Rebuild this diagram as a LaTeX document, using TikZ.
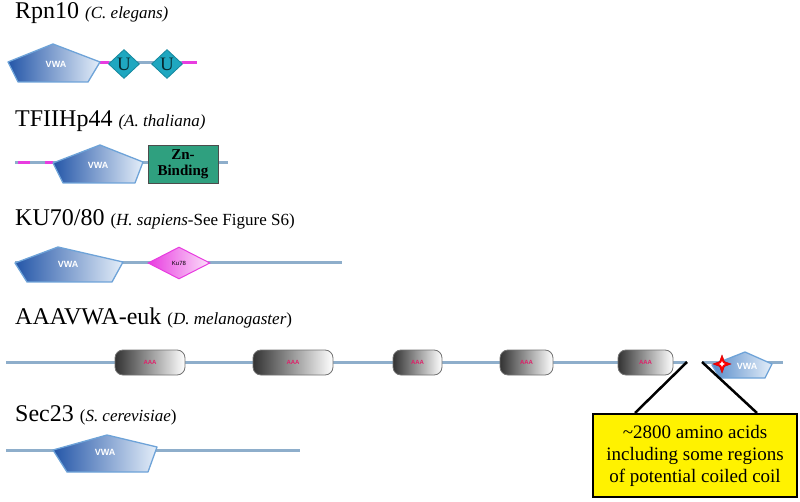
\documentclass[tikz,border=0pt]{standalone}
\usepackage{fontspec}
\setmainfont{Liberation Serif}
\setsansfont{Liberation Sans}
\usetikzlibrary{shapes.geometric,shapes.symbols}
\definecolor{bb}{HTML}{8EAECB}
\definecolor{mag}{HTML}{E83CE0}
\definecolor{vwadark}{HTML}{2456A8}
\definecolor{vwalight}{HTML}{E4EEF9}
\definecolor{vwaedge}{HTML}{6EA3D8}
\definecolor{teal}{HTML}{1FA7C0}
\definecolor{tealedge}{HTML}{16889E}
\definecolor{zn}{HTML}{2FA07F}
\definecolor{aaared}{HTML}{E0206A}
\newcommand\spcfont{\fontsize{17}{19}\selectfont}
\tikzset{
  backbone/.style={draw=bb,line width=3},
  pinkseg/.style={draw=mag,line width=3},
  title/.style={anchor=base west,inner sep=0,font=\fontsize{24}{26}\selectfont},
  vwashape/.style={left color=vwadark,right color=vwalight,draw=vwaedge,line width=1.3,line join=round},
  vwalightshape/.style={left color=vwaedge!70!vwadark,right color=vwalight,draw=vwaedge,line width=1.3,line join=round},
  vwalabel/.style={inner sep=0,text=white,font=\sffamily\bfseries\fontsize{9}{9}\selectfont},
  udiamond/.style={diamond,aspect=1.07,fill=teal,draw=tealedge,line width=0.8,inner sep=0,minimum width=31,minimum height=29,font=\fontsize{19}{19}\selectfont,text=black!75!teal},
  kudiamond/.style={diamond,aspect=1.9,left color=mag,right color=white!85!mag,draw=mag,line width=1,inner sep=0,minimum width=62,minimum height=32,font=\sffamily\fontsize{6}{6}\selectfont},
  aaabox/.style={rounded corners=8,left color=black!80,right color=white,draw=black!55,line width=0.8,inner sep=0,minimum height=25,font=\sffamily\bfseries\fontsize{6}{6}\selectfont,text=aaared},
  znbox/.style={fill=zn,draw=black!70,line width=0.8,inner sep=0,minimum width=70,minimum height=38,align=center,font=\bfseries\fontsize{15}{16}\selectfont},
  callout/.style={fill=yellow,draw=black,line width=2,inner sep=0,minimum width=204,minimum height=83,align=center,font=\fontsize{19}{22}\selectfont},
  calloutline/.style={draw=black,line width=2.5}
}
\begin{document}
\begin{tikzpicture}[x=1pt,y=-1pt]
\useasboundingbox (0,0) rectangle (800,502);

% ---------- Rpn10 ----------
\node[title] (t1) at (15,19) {Rpn10 {\spcfont\itshape(C. elegans)}};
\draw[backbone] (100,63) -- (197,63);
\draw[pinkseg] (100,63) -- (109,63);
\draw[pinkseg] (182,63) -- (197,63);
\path[vwashape] (8,62) -- (53,44) -- (100,62) -- (88,82) -- (18,82) -- cycle;
\node[vwalabel] (v1) at (56,64) {VWA};
\node[udiamond] (u1) at (124,64) {U};
\node[udiamond] (u2) at (167,64) {U};

% ---------- TFIIHp44 ----------
\node[title] (t2) at (15,127) {TFIIHp44 {\spcfont\itshape(A. thaliana)}};
\draw[backbone] (15,163) -- (228,163);
\draw[pinkseg] (18,163) -- (30,163);
\draw[pinkseg] (45,163) -- (53,163);
\path[vwashape] (53,163) -- (100,145) -- (143,162) -- (135,183) -- (63,183) -- cycle;
\node[vwalabel] (v2) at (98,165) {VWA};
\node[znbox] (zn) at (183,164) {Zn-\\Binding};

% ---------- KU70/80 ----------
\node[title] (t3) at (15,226) {KU70/80 {\spcfont(\textit{H. sapiens}-See Figure S6)}};
\draw[backbone] (15,263) -- (342,263);
\path[vwashape] (15,263) -- (58,247) -- (123,262) -- (112,282) -- (27,282) -- cycle;
\node[vwalabel] (v3) at (68,264) {VWA};
\node[kudiamond] (ku) at (179,263) {Ku78};

% ---------- AAAVWA-euk ----------
\node[title] (t4) at (15,325) {AAAVWA-euk {\spcfont(\textit{D. melanogaster})}};
\coordinate (c1) at (687,362);
\coordinate (c2) at (702,362);
\draw[backbone] (6,362) -- (c1);
\draw[backbone] (c2) -- (783,362);
\node[aaabox,minimum width=70] (a1) at (150,362.5) {AAA};
\node[aaabox,minimum width=80] (a2) at (293,362.5) {AAA};
\node[aaabox,minimum width=49] (a3) at (417.5,362.5) {AAA};
\node[aaabox,minimum width=53] (a4) at (526.5,362.5) {AAA};
\node[aaabox,minimum width=55] (a5) at (645.5,362.5) {AAA};
\path[vwalightshape] (712,365) -- (745,352) -- (772,364) -- (765,378) -- (720,378) -- cycle;
\node[vwalabel,text=white] (v4) at (747,366) {VWA};
\node[star,star points=4,star point ratio=2.6,fill=red,draw=red!80!black,inner sep=0,minimum size=18] (st) at (722,364) {};
\node[star,star points=4,star point ratio=2.2,fill=white,inner sep=0,minimum size=6] (st2) at (st) {};

% callout
\node[callout] (co) at (695,455.5) {\textasciitilde2800 amino acids\\including some regions\\of potential coiled coil};
\draw[calloutline] (c1) -- ([xshift=-60pt]co.north);
\draw[calloutline] (c2) -- ([xshift=62pt]co.north);

% ---------- Sec23 ----------
\node[title] (t5) at (15,421) {Sec23 {\spcfont(\textit{S. cerevisiae})}};
\draw[backbone] (6,450) -- (300,450);
\path[vwashape] (53,450) -- (107,435) -- (157,447) -- (148,472) -- (67,472) -- cycle;
\node[vwalabel] (v5) at (105,452) {VWA};
\end{tikzpicture}
\end{document}
